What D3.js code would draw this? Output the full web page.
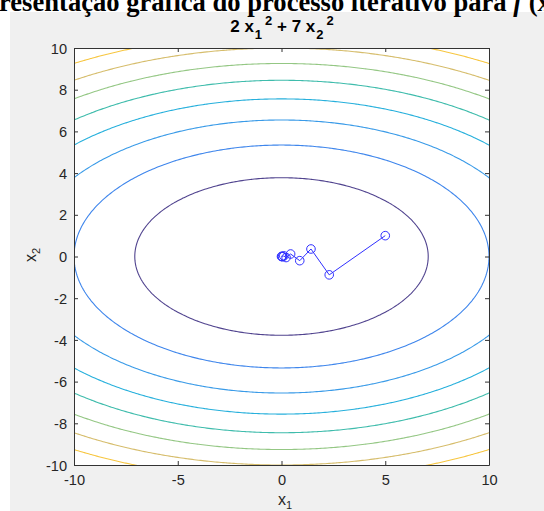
<!DOCTYPE html>
<html lang="en">
<head>
<meta charset="UTF-8">
<title>Contornos</title>
<script src="https://d3js.org/d3.v7.min.js"></script>
<style>
  body { margin: 0; background: #fff; }
</style>
</head>
<body>
<svg id="main" width="544" height="511"></svg>
<script>
// contour levels of f(x1,x2) = 2 x1^2 + 7 x2^2
const levels = [100, 200, 300, 400, 500, 600, 700, 800];
// iterates
const x1Iter = [5, 2.3, 1.42, 0.88, 0.44, 0.22, 0.11, 0.05, 0.02, 0.0];
const x2Iter = [1, -0.88, 0.36, -0.2, 0.12, -0.05, 0.03, -0.01, 0.005, 0.0];
const xTicks = [-10, -5, 0, 5, 10];
const yTicks = [-10, -8, -6, -4, -2, 0, 2, 4, 6, 8, 10];

// parula-like colours, one per level
const levelColors = ['#51448f', '#3f86ec', '#3a9be8', '#27b0dc', '#3fbcac', '#94c784', '#d6bd6c', '#f7c640'];

const f = (a, b) => 2 * a * a + 7 * b * b;
const SANS = '"Liberation Sans", Arial, sans-serif';

const svg = d3.select('svg#main');
const W = 544, H = 511;
const pLeft = 74, pRight = 489, pTop = 48, pBottom = 465;

// grey figure background
svg.append('rect').attr('x', 10).attr('y', 12).attr('width', W - 10).attr('height', H - 12).attr('fill', '#f0f0f0');

const x = d3.scaleLinear().domain([-10, 10]).range([pLeft, pRight]);
const y = d3.scaleLinear().domain([-10, 10]).range([pBottom, pTop]);

svg.append('rect').attr('x', pLeft).attr('y', pTop).attr('width', pRight - pLeft).attr('height', pBottom - pTop).attr('fill', '#fff');

svg.append('clipPath').attr('id', 'clip')
  .append('rect').attr('x', pLeft).attr('y', pTop).attr('width', pRight - pLeft).attr('height', pBottom - pTop);

// sample the surface on a grid larger than the axes so rings close outside
const n = 301, g0 = -15, step = 0.1;
const values = new Array(n * n);
for (let j = 0; j < n; j++) {
  for (let i = 0; i < n; i++) {
    values[j * n + i] = f(g0 + i * step, g0 + j * step);
  }
}
const contours = d3.contours().size([n, n]).thresholds(levels)(values);

const proj = d3.geoTransform({
  point: function(px, py) {
    this.stream.point(x(g0 + (px - 0.5) * step), y(g0 + (py - 0.5) * step));
  }
});
const path = d3.geoPath(proj);

svg.append('g').attr('clip-path', 'url(#clip)')
  .selectAll('path')
  .data(contours)
  .join('path')
  .attr('d', path)
  .attr('fill', 'none')
  .attr('stroke', (d, i) => levelColors[i])
  .attr('stroke-width', 1.1);

// iteration path
const pts = x1Iter.map((v, i) => [v, x2Iter[i]]);
const line = d3.line().x(d => x(d[0])).y(d => y(d[1]));
svg.append('path').attr('d', line(pts)).attr('fill', 'none').attr('stroke', '#3030ff').attr('stroke-width', 1);
svg.append('g').selectAll('circle')
  .data(pts)
  .join('circle')
  .attr('cx', d => x(d[0]))
  .attr('cy', d => y(d[1]))
  .attr('r', 4.3)
  .attr('fill', 'none')
  .attr('stroke', '#3030ff')
  .attr('stroke-width', 1);

// axes: ticks inward on all four sides
const axisColor = '#333';
const tl = 4;
const gB = svg.append('g').attr('transform', `translate(0,${pBottom})`)
  .call(d3.axisBottom(x).tickValues(xTicks).tickSizeInner(-tl).tickSizeOuter(0).tickPadding(10).tickFormat(d => String(d)));
const gT = svg.append('g').attr('transform', `translate(0,${pTop})`)
  .call(d3.axisTop(x).tickValues(xTicks).tickSizeInner(-tl).tickSizeOuter(0).tickFormat(''));
const gL = svg.append('g').attr('transform', `translate(${pLeft},0)`)
  .call(d3.axisLeft(y).tickValues(yTicks).tickSizeInner(-tl).tickSizeOuter(0).tickPadding(7).tickFormat(d => String(d)));
const gR = svg.append('g').attr('transform', `translate(${pRight},0)`)
  .call(d3.axisRight(y).tickValues(yTicks).tickSizeInner(-tl).tickSizeOuter(0).tickFormat(''));

[gB, gT, gL, gR].forEach(g => {
  g.select('.domain').attr('stroke', axisColor);
  g.selectAll('.tick line').attr('stroke', axisColor);
  g.selectAll('.tick text').attr('fill', '#262626').attr('font-size', '14.6px').attr('font-family', SANS);
});
gB.selectAll('.tick text').attr('dy', '0.71em');
gL.selectAll('.tick text').attr('dy', '0.35em');

// axes title: 2 x_1^2 + 7 x_2^2
const ttl = svg.append('text').attr('x', 282).attr('y', 32).attr('text-anchor', 'middle')
  .attr('font-family', SANS).attr('font-weight', 'bold').attr('font-size', '17px').attr('fill', '#000');
ttl.append('tspan').text('2 x');
ttl.append('tspan').attr('font-size', '13px').attr('dx', 1).attr('dy', 7).text('1');
ttl.append('tspan').attr('font-size', '13px').attr('dx', 3).attr('dy', -14).text('2');
ttl.append('tspan').attr('dy', 7).text(' + 7 x');
ttl.append('tspan').attr('font-size', '13px').attr('dx', 1).attr('dy', 7).text('2');
ttl.append('tspan').attr('font-size', '13px').attr('dx', 3).attr('dy', -14).text('2');

// axis labels
const xl = svg.append('text').attr('x', 278).attr('y', 505).attr('font-family', SANS)
  .attr('font-size', '16px').attr('fill', '#262626');
xl.append('tspan').text('x');
xl.append('tspan').attr('font-size', '11px').attr('dy', 4).text('1');

const yl = svg.append('text').attr('transform', 'translate(36,262) rotate(-90)').attr('font-family', SANS)
  .attr('font-size', '16px').attr('fill', '#262626');
yl.append('tspan').text('x');
yl.append('tspan').attr('font-size', '11px').attr('dy', 4).text('2');

// cropped document caption above the figure
const cap = svg.append('text').attr('y', 11)
  .style('font-family', '"Liberation Serif", "Times New Roman", serif')
  .style('font-weight', 'bold').style('font-size', '22px').attr('fill', '#000');
const pre = cap.append('tspan').text('Rep');
const mid = cap.append('tspan').text('resentação gráfica do processo iterativo para');
cap.append('tspan').text(' ');
cap.append('tspan').style('font-style', 'italic').text('f');
cap.append('tspan').text(' (x)');
// size so that "...para" ends where it does in the page
const fs = 22 * 508 / mid.node().getComputedTextLength();
cap.style('font-size', fs + 'px');
cap.attr('x', -pre.node().getComputedTextLength() - 1);
</script>
</body>
</html>
